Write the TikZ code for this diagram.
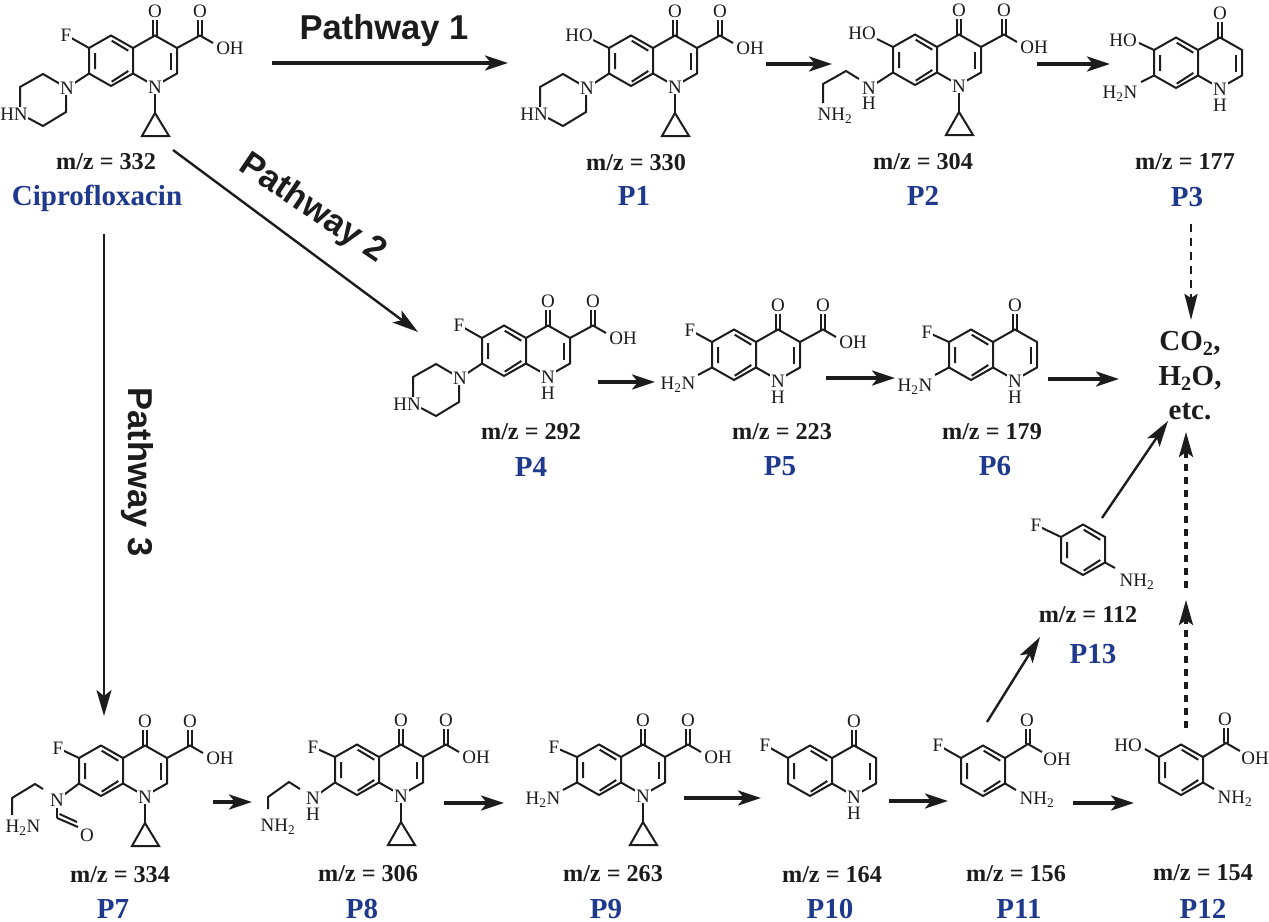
\documentclass[tikz,border=0pt]{standalone}
\usepackage{fontspec}
\setmainfont{Liberation Serif}
\newfontfamily\pathfont{Liberation Sans}
\usetikzlibrary{arrows.meta}
\definecolor{ink}{HTML}{1C1C1C}
\definecolor{pblue}{HTML}{1F3A8C}
\tikzset{
  bond/.style={line width=2pt,draw=ink,line join=miter},
  atom/.style={fill=white,inner sep=0.7pt,text=ink,text height=12.5pt,text depth=0pt,font=\fontsize{19}{19}\selectfont},
  mz/.style={inner sep=0pt,text=ink,font=\bfseries\fontsize{24.2}{24.2}\selectfont},
  pid/.style={inner sep=0pt,text=pblue,font=\bfseries\fontsize{29}{29}\selectfont},
  prod/.style={inner sep=0pt,text=ink,font=\bfseries\fontsize{29}{29}\selectfont},
  way/.style={inner sep=0pt,text=ink,font=\pathfont\bfseries\fontsize{34.5}{34.5}\selectfont},
  bigarrow/.style={line width=3.4pt,draw=ink,-{Stealth[length=23pt,width=15pt,inset=6pt]}},
  thinarrow/.style={line width=2.4pt,draw=ink,-{Stealth[length=26pt,width=15pt,inset=6pt]}},
  dasharrow/.style={line width=2.4pt,draw=ink,dash pattern=on 8pt off 6pt,-{Stealth[length=26pt,width=13pt,inset=4pt]}},
  dashbold/.style={line width=3.4pt,draw=ink,dash pattern=on 7.5pt off 5.5pt,-{Stealth[length=25pt,width=14pt,inset=5pt]}},
}
\newcounter{atomc}
\newcommand{\atom}[3]{\stepcounter{atomc}\node[atom] (a\theatomc) at (#1,#2) {#3};}
\newcommand{\ringbz}{%
  \draw[bond] (0,0)--(0,25.5)--(-22,38)--(-44,25.5)--(-44,0)--(-22,-12.5)--cycle;
  \draw[bond] (-38,5)--(-38,21) (-21.3,-7.3)--(-4.7,2.7) (-21.3,33.7)--(-4.7,23);}
\newcommand{\ringpy}{%
  \draw[bond] (0,0)--(22,-12.5)--(44,0)--(44,25.5)--(22,38)--(0,25.5);
  \draw[bond] (37.7,5.3)--(37.7,22);
  \draw[bond] (20.4,-12.5)--(20.4,-28) (23.6,-12.5)--(23.6,-28);
  \atom{22}{-37}{O}}
\newcommand{\cooh}{%
  \draw[bond] (44,0)--(67,-12.5)--(80,-5);
  \draw[bond] (65.4,-12.5)--(65.4,-28) (68.6,-12.5)--(68.6,-28);
  \atom{67}{-37}{O}\atom{97}{0}{OH}}
\newcommand{\ncyclo}{%
  \draw[bond] (22,46)--(22,65);
  \draw[bond] (22,65)--(9,88)--(36,88)--cycle;
  \atom{22}{39}{N}}
\newcommand{\nh}{\atom{22}{39}{N}\atom{22}{55}{H}}
\newcommand{\piperazine}{%
  \draw[bond] (-44,25.5)--(-66,40);
  \draw[bond] (-66,40)--(-90,26)--(-113,39)--(-113,59);
  \draw[bond] (-105,70)--(-90,78)--(-67,64)--(-67,40);
  \atom{-66}{40}{N}\atom{-119}{66}{HN}}
\newcommand{\saa}{%
  \draw[bond] (0,0)--(23,-14)--(37,-6);
  \draw[bond] (21.4,-14)--(21.4,-29) (24.6,-14)--(24.6,-29);
  \draw[bond] (0,25.5)--(11,32);
  \atom{22}{-38}{O}\atom{52}{1}{OH}\atom{32}{40}{NH\textsubscript{2}}}
\begin{document}
\begin{tikzpicture}[x=1pt,y=-1pt]
\useasboundingbox (0,0) rectangle (1269,921);
% Ciprofloxacin
\begin{scope}[shift={(133,48)}]
 \ringbz\ringpy\cooh\ncyclo\piperazine
 \draw[bond] (-44,0)--(-67,-13); \atom{-67}{-13}{F}
\end{scope}
\node[mz] (mz0) at (106,162) {m/z = 332};
\node[pid] (p0) at (97,198) {Ciprofloxacin};
% P1
\begin{scope}[shift={(653,48)}]
 \ringbz\ringpy\cooh\ncyclo\piperazine
 \draw[bond] (-44,0)--(-60,-8); \atom{-74}{-13}{HO}
\end{scope}
\node[mz] (mz1) at (636,163) {m/z = 330};
\node[pid] (p1) at (634,196) {P1};
% P2
\begin{scope}[shift={(937,47)}]
 \ringbz\ringpy\cooh\ncyclo
 \draw[bond] (-44,0)--(-60,-8); \atom{-75}{-14}{HO}
 \draw[bond] (-44,25.5)--(-68,41);
 \draw[bond] (-78,32)--(-91,24)--(-114,37)--(-114,56);
 \atom{-68}{41}{N}\atom{-68}{56}{H}\atom{-102}{67}{NH\textsubscript{2}}
\end{scope}
\node[mz] (mz2) at (923,162) {m/z = 304};
\node[pid] (p2) at (923,196) {P2};
% P3
\begin{scope}[shift={(1198,50)}]
 \ringbz\ringpy\nh
 \draw[bond] (-44,0)--(-59,-7); \atom{-75}{-10}{HO}
 \draw[bond] (-44,25.5)--(-57,32); \atom{-78}{42}{H\textsubscript{2}N}
\end{scope}
\node[mz] (mz3) at (1185,162) {m/z = 177};
\node[pid] (p3) at (1187,197) {P3};
% P4
\begin{scope}[shift={(526,338)}]
 \ringbz\ringpy\cooh\nh\piperazine
 \draw[bond] (-44,0)--(-67,-13); \atom{-67}{-13}{F}
\end{scope}
\node[mz] (mz4) at (531,432) {m/z = 292};
\node[pid] (p4) at (531,467) {P4};
% P5
\begin{scope}[shift={(756,342)}]
 \ringbz\ringpy\cooh\nh
 \draw[bond] (-44,0)--(-66,-12); \atom{-66}{-12}{F}
 \draw[bond] (-44,25.5)--(-58,33); \atom{-78}{41}{H\textsubscript{2}N}
\end{scope}
\node[mz] (mz5) at (782,432) {m/z = 223};
\node[pid] (p5) at (780,466) {P5};
% P6
\begin{scope}[shift={(993,342)}]
 \ringbz\ringpy\nh
 \draw[bond] (-44,0)--(-66,-10); \atom{-66}{-10}{F}
 \draw[bond] (-44,25.5)--(-58,33); \atom{-78}{43}{H\textsubscript{2}N}
\end{scope}
\node[mz] (mz6) at (992,432) {m/z = 179};
\node[pid] (p6) at (995,466) {P6};
% P7
\begin{scope}[shift={(123,758)}]
 \ringbz\ringpy\cooh\ncyclo
 \draw[bond] (-44,0)--(-65,-10); \atom{-65}{-10}{F}
 \draw[bond] (-44,25.5)--(-66,42);
 \draw[bond] (-80,31)--(-88,26)--(-111,40)--(-111,57);
 \draw[bond] (-66,50)--(-66,60);
 \draw[bond] (-66,60)--(-45,69) (-63.5,56)--(-46,64);
 \atom{-66}{42}{N}\atom{-100}{68}{H\textsubscript{2}N}\atom{-36}{77}{O}
\end{scope}
\node[mz] (mz7) at (120,875) {m/z = 334};
\node[pid] (p7) at (113,909) {P7};
% P8
\begin{scope}[shift={(379,757)}]
 \ringbz\ringpy\cooh\ncyclo
 \draw[bond] (-44,0)--(-66,-10); \atom{-66}{-10}{F}
 \draw[bond] (-44,25.5)--(-66,41);
 \draw[bond] (-79,32)--(-90,25)--(-111,40)--(-111,52);
 \atom{-66}{41}{N}\atom{-66}{57}{H}\atom{-101}{68}{NH\textsubscript{2}}
\end{scope}
\node[mz] (mz8) at (368,874) {m/z = 306};
\node[pid] (p8) at (362,909) {P8};
% P9
\begin{scope}[shift={(621,757)}]
 \ringbz\ringpy\cooh\ncyclo
 \draw[bond] (-44,0)--(-67,-10); \atom{-67}{-10}{F}
 \draw[bond] (-44,25.5)--(-58,33); \atom{-78}{41}{H\textsubscript{2}N}
\end{scope}
\node[mz] (mz9) at (613,874) {m/z = 263};
\node[pid] (p9) at (606,909) {P9};
% P10
\begin{scope}[shift={(832,758)}]
 \ringbz\ringpy\nh
 \draw[bond] (-44,0)--(-67,-13); \atom{-67}{-13}{F}
\end{scope}
\node[mz] (mz10) at (832,875) {m/z = 164};
\node[pid] (p10) at (830,909) {P10};
% P11
\begin{scope}[shift={(1005,758)}]
 \ringbz\saa
 \draw[bond] (-44,0)--(-67,-13); \atom{-67}{-13}{F}
\end{scope}
\node[mz] (mz11) at (1016,874) {m/z = 156};
\node[pid] (p11) at (1019,909) {P11};
% P12
\begin{scope}[shift={(1203,757)}]
 \ringbz\saa
 \draw[bond] (-44,0)--(-58,-8); \atom{-75}{-12}{HO}
\end{scope}
\node[mz] (mz12) at (1203,873) {m/z = 154};
\node[pid] (p12) at (1203,909) {P12};
% P13
\begin{scope}[shift={(1105,537)}]
 \ringbz
 \draw[bond] (-44,0)--(-69,-12); \atom{-69}{-12}{F}
 \draw[bond] (0,25.5)--(10,31); \atom{32}{43}{NH\textsubscript{2}}
\end{scope}
\node[mz] (mz13) at (1088,615) {m/z = 112};
\node[pid] (p13) at (1093,654) {P13};
% end products
\node[prod] (co2) at (1190,343) {CO\textsubscript{2},};
\node[prod] (h2o) at (1190,378) {H\textsubscript{2}O,};
\node[prod] (etc) at (1190,412) {etc.};
% pathway labels
\node[way] (w1) at (384,31) {Pathway 1};
\node[way,rotate=-34] (w2) at (312,209) {Pathway 2};
\node[way,rotate=-90] (w3) at (137,472) {Pathway 3};
% arrow ends
\coordinate (c0a) at (272,63);   \coordinate (c1a) at (508,63);
\coordinate (c1b) at (766,64);   \coordinate (c2a) at (832,64);
\coordinate (c2b) at (1037,64);  \coordinate (c3a) at (1110,64);
\coordinate (c0b) at (173,150);  \coordinate (c4a) at (418,332);
\coordinate (c0c) at (104,234);  \coordinate (c7a) at (104,716);
\coordinate (c3b) at (1191,224); \coordinate (e1) at (1191,320);
\coordinate (c4b) at (598,382);  \coordinate (c5a) at (655,382);
\coordinate (c5b) at (826,378);  \coordinate (c6a) at (895,378);
\coordinate (c6b) at (1048,379); \coordinate (e2) at (1119,379);
\coordinate (c13b) at (1102,518);\coordinate (e3) at (1168,421);
\coordinate (c12b) at (1186,728);\coordinate (m12) at (1186,600);
\coordinate (m12b) at (1186,588);\coordinate (e4) at (1186,432);
\coordinate (c11b) at (987,722); \coordinate (c13a) at (1040,637);
\coordinate (c11c) at (1073,803);\coordinate (c12a) at (1134,803);
\coordinate (c7b) at (213,802);  \coordinate (c8a) at (252,802);
\coordinate (c8b) at (444,803);  \coordinate (c9a) at (504,803);
\coordinate (c9b) at (684,798);  \coordinate (c10a) at (761,798);
\coordinate (c10b) at (889,801); \coordinate (c11a) at (948,801);
% arrows
\draw[bigarrow] (c0a)--(c1a);
\draw[bigarrow] (c1b)--(c2a);
\draw[bigarrow] (c2b)--(c3a);
\draw[thinarrow] (c0b)--(c4a);
\draw[thinarrow] (c0c)--(c7a);
\draw[dasharrow] (c3b)--(e1);
\draw[bigarrow] (c4b)--(c5a);
\draw[bigarrow] (c5b)--(c6a);
\draw[bigarrow] (c6b)--(e2);
\draw[thinarrow] (c13b)--(e3);
\draw[dashbold] (c12b)--(m12);
\draw[dashbold] (m12b)--(e4);
\draw[thinarrow] (c11b)--(c13a);
\draw[bigarrow] (c11c)--(c12a);
\draw[bigarrow] (c7b)--(c8a);
\draw[bigarrow] (c8b)--(c9a);
\draw[bigarrow] (c9b)--(c10a);
\draw[bigarrow] (c10b)--(c11a);
\end{tikzpicture}
\end{document}
